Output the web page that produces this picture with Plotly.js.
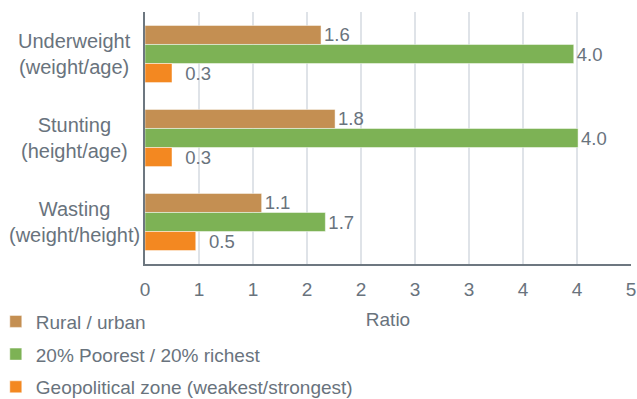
<!DOCTYPE html>
<html>
<head>
<meta charset="utf-8">
<script src="https://cdn.plot.ly/plotly-3.0.1.min.js"></script>
<style>html,body{margin:0;padding:0;background:#fff;}#chart{width:637px;height:399px;}</style>
</head>
<body>
<div id="chart"></div>
<script>
// ---- data ----
const categories = ["Underweight<br>(weight/age)", "Stunting<br>(height/age)", "Wasting<br>(weight/height)"];
const seriesNames = ["Rural / urban", "20% Poorest / 20% richest", "Geopolitical zone (weakest/strongest)"];
const ruralUrban = [1.63, 1.76, 1.08];
const poorestRichest = [3.97, 4.01, 1.67];
const geopolitical = [0.25, 0.25, 0.47];
const tickValues = [0, 0.5, 1, 1.5, 2, 2.5, 3, 3.5, 4, 4.5];
const tickLabels = ["0", "1", "1", "2", "2", "3", "3", "4", "4", "5"];
const xAxisTitle = "Ratio";

const colors = ["#c48f52", "#7db255", "#f38821"];
const textColor = "#69737d";
const fontFam = "Liberation Sans, Arial, Helvetica, sans-serif";

const seriesValues = [ruralUrban, poorestRichest, geopolitical];
const traces = seriesValues.map((vals, i) => ({
  type: "bar",
  orientation: "h",
  name: seriesNames[i],
  legendgroup: "g" + i,
  y: categories,
  x: vals,
  marker: {color: colors[i], line: {color: "rgba(255,255,255,0.6)", width: 0.8}},
  texttemplate: (i === 2 ? "\u00a0\u00a0" : "") + "%{x:.1f}",
  textposition: "outside",
  constraintext: "none",
  cliponaxis: false,
  textfont: {family: fontFam, size: 18.5, color: textColor},
  hoverinfo: "x+name"
}));

const annotations = categories.map(c => ({
  xref: "paper", yref: "y",
  x: -0.146, y: c,
  xanchor: "center", yanchor: "middle",
  text: c, showarrow: false, align: "center",
  font: {family: fontFam, size: 20, color: textColor}
}));

const layout = {
  width: 637, height: 399,
  margin: {l: 145, r: 6, t: 12, b: 135, autoexpand: false},
  paper_bgcolor: "#fff", plot_bgcolor: "#fff",
  font: {family: fontFam, color: textColor, size: 19},
  barmode: "group",
  bargap: 0.32,
  bargroupgap: 0,
  showlegend: true,
  legend: {
    x: -0.307, xanchor: "left", y: -0.153, yanchor: "top",
    orientation: "v", font: {family: fontFam, size: 19, color: textColor},
    tracegroupgap: 5, traceorder: "grouped", bgcolor: "rgba(0,0,0,0)"
  },
  xaxis: {
    range: [0, 4.5],
    tickmode: "array", tickvals: tickValues, ticktext: tickLabels,
    showgrid: true, gridcolor: "#dfe3e8", gridwidth: 1.5,
    zeroline: false,
    showline: true, linecolor: "#6d7780", linewidth: 2,
    ticks: "", ticklabelstandoff: 7,
    tickfont: {family: fontFam, size: 19, color: textColor},
    title: {text: xAxisTitle, standoff: 14, font: {family: fontFam, size: 19, color: textColor}}
  },
  yaxis: {
    type: "category",
    autorange: "reversed",
    showticklabels: false,
    showgrid: false, zeroline: false,
    showline: true, linecolor: "#6d7780", linewidth: 2,
    ticks: ""
  },
  annotations: annotations
};

Plotly.newPlot("chart", traces, layout, {displayModeBar: false, staticPlot: true});
</script>
</body>
</html>
